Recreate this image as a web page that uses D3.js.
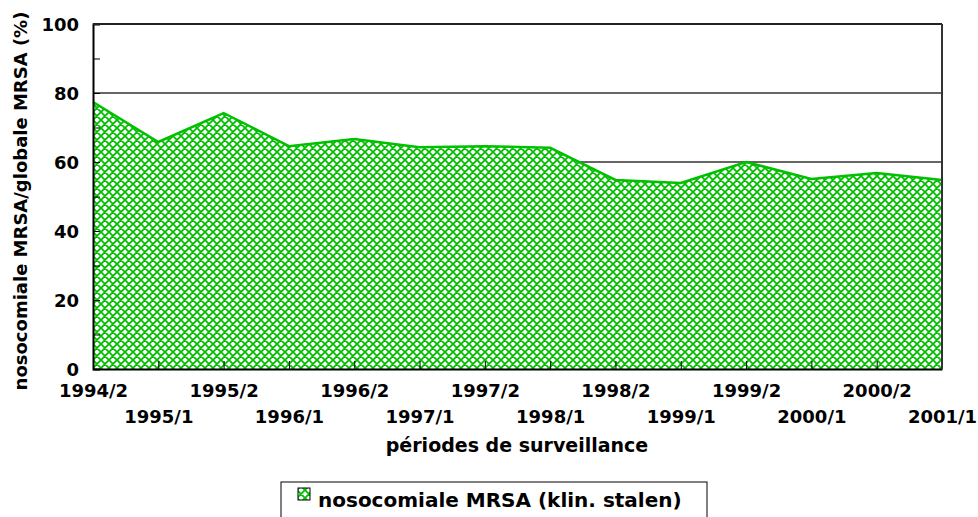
<!DOCTYPE html>
<html>
<head>
<meta charset="utf-8">
<script src="https://cdn.jsdelivr.net/npm/d3@7"></script>
<style>
    body { margin: 0; background: #fff; }
    svg text { font-family: 'DejaVu Sans', sans-serif; font-weight: bold; fill: #000; }
</style>
</head>
<body>
<svg id="chart"></svg>
<script>
// surveillance periods (x categories)
const periods = ['1994/2', '1995/1', '1995/2', '1996/1', '1996/2', '1997/1', '1997/2',
    '1998/1', '1998/2', '1999/1', '1999/2', '2000/1', '2000/2', '2001/1'];

// % nosocomial MRSA among all MRSA
const nosoValues = [77.4, 65.8, 74.2, 64.6, 66.7, 64.3, 64.6, 64.1, 54.8, 53.9, 60.0, 55.1, 56.8, 54.8];

const yTicks = [0, 10, 20, 30, 40, 50, 60, 70, 80, 90, 100];
const yLabelTicks = [0, 20, 40, 60, 80, 100];

const seriesName = 'nosocomiale MRSA (klin. stalen)';
const xTitle = 'périodes de surveillance';
const yTitle = 'nosocomiale MRSA/globale MRSA (%)';

class AreaChart {

    /**
     * Class constructor with initial configuration
     */
    constructor(_config) {
        this.config = {
            parentElement: _config.parentElement,
            containerWidth: 978,
            containerHeight: 517,
            margin: {top: 24, right: 36, bottom: 148, left: 93},
            green: '#00c000'
        }
        this.initVis();
    }

    /**
     * Create scales, axes, and static elements
     */
    initVis() {
        let vis = this;

        vis.width = vis.config.containerWidth - vis.config.margin.left - vis.config.margin.right;
        vis.height = vis.config.containerHeight - vis.config.margin.top - vis.config.margin.bottom;

        vis.svg = d3.select(vis.config.parentElement)
            .attr('width', vis.config.containerWidth)
            .attr('height', vis.config.containerHeight);

        // cross hatch pattern
        let pattern = vis.svg.append('defs').append('pattern')
            .attr('id', 'hatch')
            .attr('patternUnits', 'userSpaceOnUse')
            .attr('width', 8)
            .attr('height', 8);
        pattern.append('rect').attr('width', 8).attr('height', 8).attr('fill', '#fff');
        pattern.append('path')
            .attr('d', 'M0,0L8,8M8,0L0,8M-1,7L1,9M7,-1L9,1M-1,1L1,-1M7,9L9,7')
            .attr('stroke', vis.config.green)
            .attr('stroke-width', 1.8);

        vis.chart = vis.svg.append('g')
            .attr('transform', `translate(${vis.config.margin.left},${vis.config.margin.top})`);

        vis.xScale = d3.scalePoint()
            .domain(periods)
            .range([0, vis.width]);

        vis.yScale = d3.scaleLinear()
            .domain([0, 100])
            .range([vis.height, 0]);

        vis.updateVis();
    }

    updateVis() {
        let vis = this;
        vis.data = periods.map((p, i) => ({period: p, value: nosoValues[i]}));
        vis.renderVis();
    }

    /**
     * Draw gridlines, area, axes and legend
     */
    renderVis() {
        let vis = this;

        // gridlines
        vis.chart.selectAll('.grid')
            .data(yLabelTicks.filter(d => d > 0))
            .join('line')
            .attr('class', 'grid')
            .attr('x1', 0)
            .attr('x2', vis.width)
            .attr('y1', d => vis.yScale(d))
            .attr('y2', d => vis.yScale(d))
            .attr('stroke', '#333')
            .attr('stroke-width', 1.5);

        const area = d3.area()
            .x(d => vis.xScale(d.period))
            .y0(vis.yScale(0))
            .y1(d => vis.yScale(d.value));

        const line = d3.line()
            .x(d => vis.xScale(d.period))
            .y(d => vis.yScale(d.value));

        vis.chart.append('path')
            .datum(vis.data)
            .attr('d', area)
            .attr('fill', 'url(#hatch)');

        vis.chart.append('path')
            .datum(vis.data)
            .attr('d', line)
            .attr('fill', 'none')
            .attr('stroke', vis.config.green)
            .attr('stroke-width', 2.5);

        // y axis, ticks pointing inside
        const yAxis = d3.axisLeft(vis.yScale)
            .tickValues(yTicks)
            .tickSize(-7)
            .tickPadding(14)
            .tickFormat(d => yLabelTicks.includes(d) ? d : '');

        let yG = vis.chart.append('g').call(yAxis);
        yG.select('.domain').attr('stroke', '#000').attr('stroke-width', 2);
        yG.selectAll('.tick line').attr('stroke', '#000').attr('stroke-width', 1);
        yG.selectAll('.tick text')
            .attr('font-size', 18)
            .attr('dy', '0.36em')
            .attr('x', -14);

        // x axis, ticks pointing inside, labels on two rows
        const xAxis = d3.axisBottom(vis.xScale)
            .tickSize(-8)
            .tickSizeOuter(0);

        let xG = vis.chart.append('g')
            .attr('transform', `translate(0,${vis.height})`)
            .call(xAxis);
        xG.select('.domain').attr('stroke', '#000').attr('stroke-width', 2);
        xG.selectAll('.tick line').attr('stroke', '#000').attr('stroke-width', 1);
        xG.selectAll('.tick text')
            .attr('font-size', 18)
            .attr('y', (d, i) => i % 2 === 0 ? 28 : 54)
            .attr('dy', 0);

        // top and right border
        vis.chart.append('line')
            .attr('x1', 0).attr('x2', vis.width)
            .attr('y1', 0).attr('y2', 0)
            .attr('stroke', '#222').attr('stroke-width', 2);
        vis.chart.append('line')
            .attr('x1', vis.width).attr('x2', vis.width)
            .attr('y1', 0).attr('y2', vis.height)
            .attr('stroke', '#333').attr('stroke-width', 2);

        // axis titles
        vis.svg.append('text')
            .attr('x', 517)
            .attr('y', 452)
            .attr('text-anchor', 'middle')
            .attr('font-size', 19)
            .text(xTitle);

        vis.svg.append('text')
            .attr('transform', 'translate(27,201) rotate(-90)')
            .attr('text-anchor', 'middle')
            .attr('font-size', 18)
            .text(yTitle);

        // legend
        let legend = vis.svg.append('g').attr('transform', 'translate(281,482)');
        legend.append('rect')
            .attr('width', 426)
            .attr('height', 60)
            .attr('fill', '#fff')
            .attr('stroke', '#000')
            .attr('stroke-width', 1);
        legend.append('rect')
            .attr('x', 17).attr('y', 6)
            .attr('width', 12).attr('height', 12)
            .attr('fill', 'url(#hatch)')
            .attr('stroke', '#000')
            .attr('stroke-width', 1);
        legend.append('text')
            .attr('x', 37)
            .attr('y', 25)
            .attr('font-size', 20)
            .text(seriesName);
    }
}

new AreaChart({parentElement: '#chart'});
</script>
</body>
</html>
